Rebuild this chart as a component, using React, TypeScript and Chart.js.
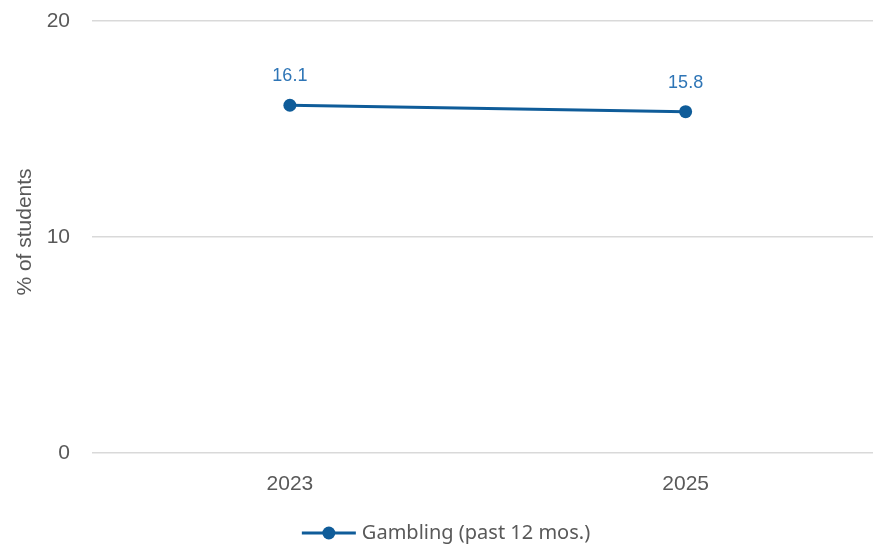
import React, { useEffect, useRef } from "react";
import { Chart, registerables } from "chart.js";

Chart.register(...registerables);

const categories = ["2023", "2025"];
const gamblingValues = [16.1, 15.8];
const seriesLabel = "Gambling (past 12 mos.)";
const yTitle = "% of students";
const yTicks = [0, 10, 20];

const LINE_COLOR = "#0F5C99";
const LABEL_COLOR = "#2E75B6";
const TEXT_COLOR = "#595959";
const GRID_COLOR = "#D9D9D9";
const SANS = "'Liberation Sans', Arial, sans-serif";

const dataLabelPlugin = {
  id: "dataLabels",
  afterDatasetsDraw(chart: any) {
    const ctx = chart.ctx;
    const meta = chart.getDatasetMeta(0);
    const ds = chart.data.datasets[0];
    ctx.save();
    ctx.font = `18px ${SANS}`;
    ctx.fillStyle = LABEL_COLOR;
    ctx.textAlign = "center";
    ctx.textBaseline = "middle";
    meta.data.forEach((pt: any, i: number) => {
      ctx.fillText(ds.data[i].toFixed(1), pt.x, pt.y - 29);
    });
    ctx.restore();
  },
};

const yTitlePlugin = {
  id: "yTitle",
  afterDraw(chart: any) {
    const ctx = chart.ctx;
    ctx.save();
    ctx.font = `21px ${SANS}`;
    ctx.fillStyle = TEXT_COLOR;
    ctx.textAlign = "center";
    ctx.textBaseline = "middle";
    ctx.translate(25, 232);
    ctx.rotate(-Math.PI / 2);
    ctx.fillText(yTitle, 0, 0);
    ctx.restore();
  },
};

const legendPlugin = {
  id: "customLegend",
  afterDraw(chart: any) {
    const ctx = chart.ctx;
    ctx.save();
    ctx.font = "20px 'Noto Sans', 'Open Sans', sans-serif";
    const text = seriesLabel;
    const tw = ctx.measureText(text).width;
    const lineLen = 54;
    const gap = 6;
    const total = lineLen + gap + tw;
    const cx = 446;
    const y = 533;
    const x0 = cx - total / 2;
    ctx.strokeStyle = LINE_COLOR;
    ctx.lineWidth = 3;
    ctx.beginPath();
    ctx.moveTo(x0, y);
    ctx.lineTo(x0 + lineLen, y);
    ctx.stroke();
    ctx.fillStyle = LINE_COLOR;
    ctx.beginPath();
    ctx.arc(x0 + lineLen / 2, y, 6.5, 0, Math.PI * 2);
    ctx.fill();
    ctx.fillStyle = TEXT_COLOR;
    ctx.textAlign = "left";
    ctx.textBaseline = "middle";
    ctx.fillText(text, x0 + lineLen + gap, y);
    ctx.restore();
  },
};

export default function App() {
  const canvasRef = useRef<HTMLCanvasElement>(null);

  useEffect(() => {
    if (!canvasRef.current) return;
    const chart = new Chart(canvasRef.current, {
      type: "line",
      data: {
        labels: categories,
        datasets: [
          {
            label: seriesLabel,
            data: gamblingValues,
            borderColor: LINE_COLOR,
            backgroundColor: LINE_COLOR,
            borderWidth: 3,
            pointRadius: 6.5,
            pointHoverRadius: 6.5,
            pointBackgroundColor: LINE_COLOR,
            pointBorderWidth: 0,
            tension: 0,
          },
        ],
      },
      options: {
        animation: false,
        responsive: false,
        maintainAspectRatio: false,
        layout: { padding: { top: 21, right: 4, left: 0, bottom: 0 } },
        plugins: {
          legend: { display: false },
          tooltip: { enabled: false },
        },
        scales: {
          x: {
            type: "category",
            offset: true,
            grid: { display: false, drawTicks: false },
            border: { display: false },
            ticks: {
              color: TEXT_COLOR,
              font: { family: SANS, size: 21 },
              padding: 19,
            },
            afterFit(scale: any) {
              scale.height = 92;
              scale.paddingLeft = 0;
              scale.paddingRight = 0;
            },
          },
          y: {
            min: 0,
            max: 20,
            afterBuildTicks(scale: any) {
              scale.ticks = yTicks.map((v) => ({ value: v }));
            },
            grid: { color: GRID_COLOR, lineWidth: 1.5, drawTicks: false },
            border: { display: false },
            ticks: {
              color: TEXT_COLOR,
              font: { family: SANS, size: 21 },
              padding: 22,
            },
            title: { display: false },
            afterFit(scale: any) {
              scale.width = 92;
              scale.paddingTop = 0;
              scale.paddingBottom = 0;
            },
          },
        },
      },
      plugins: [dataLabelPlugin, yTitlePlugin, legendPlugin],
    });
    return () => chart.destroy();
  }, []);

  return (
    <div
      style={{
        position: "fixed",
        left: 0,
        top: 0,
        width: 873,
        height: 545,
        overflow: "hidden",
        background: "#fff",
      }}
    >
      <canvas ref={canvasRef} width={890} height={545} style={{ display: "block" }} />
    </div>
  );
}
